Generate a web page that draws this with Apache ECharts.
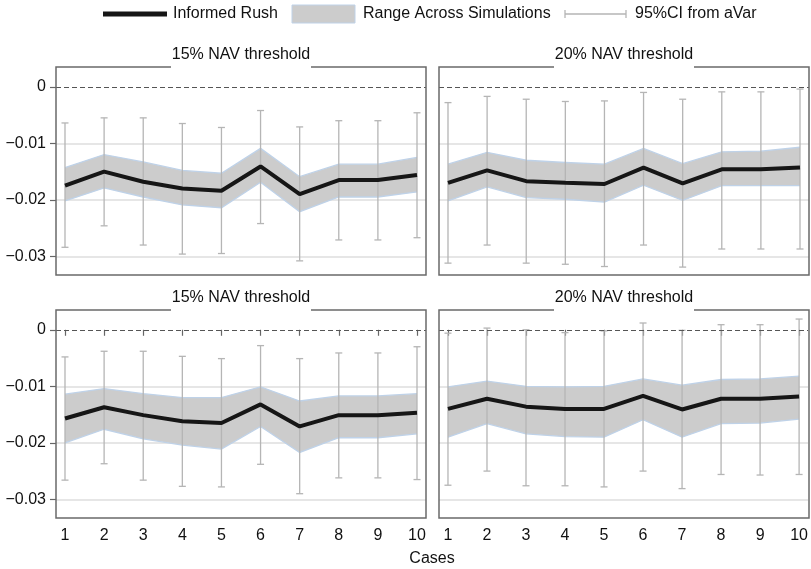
<!DOCTYPE html>
<html>
<head>
<meta charset="utf-8">
<script src="https://cdn.jsdelivr.net/npm/echarts@6/dist/echarts.min.js"></script>
<style>
  html, body { margin: 0; padding: 0; background: #fff; }
  #chart { width: 811px; height: 569px; }
</style>
</head>
<body>
<div id="chart"></div>
<script>
// 数据
const cases = [1, 2, 3, 4, 5, 6, 7, 8, 9, 10]
const yTicks = [0, -0.01, -0.02, -0.03]
const panelTitles = ['15% NAV threshold', '20% NAV threshold', '15% NAV threshold', '20% NAV threshold']

// top-left
const rushA = [-0.0175, -0.0150, -0.0168, -0.0180, -0.0184, -0.0141, -0.0190, -0.0165, -0.0165, -0.0156]
const rangeLowA = [-0.0202, -0.0179, -0.0195, -0.0209, -0.0214, -0.0169, -0.0221, -0.0195, -0.0195, -0.0186]
const rangeHighA = [-0.0143, -0.0120, -0.0133, -0.0148, -0.0153, -0.0109, -0.0159, -0.0137, -0.0137, -0.0125]
const ciLowA = [-0.0284, -0.0246, -0.0280, -0.0296, -0.0295, -0.0242, -0.0308, -0.0271, -0.0271, -0.0267]
const ciHighA = [-0.0064, -0.0055, -0.0055, -0.0065, -0.0072, -0.0042, -0.0071, -0.0060, -0.0060, -0.0046]

// top-right
const rushB = [-0.0170, -0.0148, -0.0167, -0.0170, -0.0172, -0.0143, -0.0171, -0.0146, -0.0146, -0.0143]
const rangeLowB = [-0.0202, -0.0177, -0.0196, -0.0199, -0.0204, -0.0174, -0.0201, -0.0175, -0.0175, -0.0175]
const rangeHighB = [-0.0137, -0.0116, -0.0130, -0.0134, -0.0137, -0.0109, -0.0136, -0.0115, -0.0114, -0.0107]
const ciLowB = [-0.0312, -0.0280, -0.0312, -0.0314, -0.0318, -0.0280, -0.0319, -0.0287, -0.0287, -0.0287]
const ciHighB = [-0.0028, -0.0017, -0.0022, -0.0026, -0.0025, -0.0010, -0.0022, -0.0009, -0.0009, -0.0004]

// bottom-left
const rushC = [-0.0157, -0.0137, -0.0151, -0.0162, -0.0165, -0.0132, -0.0171, -0.0151, -0.0151, -0.0147]
const rangeLowC = [-0.0200, -0.0176, -0.0193, -0.0204, -0.0211, -0.0171, -0.0217, -0.0191, -0.0191, -0.0184]
const rangeHighC = [-0.0114, -0.0104, -0.0113, -0.0120, -0.0120, -0.0101, -0.0126, -0.0117, -0.0117, -0.0113]
const ciLowC = [-0.0266, -0.0237, -0.0266, -0.0277, -0.0278, -0.0238, -0.0290, -0.0262, -0.0262, -0.0265]
const ciHighC = [-0.0048, -0.0038, -0.0038, -0.0047, -0.0051, -0.0028, -0.0051, -0.0041, -0.0041, -0.0030]

// bottom-right
const rushD = [-0.0140, -0.0122, -0.0136, -0.0140, -0.0140, -0.0117, -0.0141, -0.0122, -0.0122, -0.0118]
const rangeLowD = [-0.0190, -0.0166, -0.0184, -0.0189, -0.0190, -0.0159, -0.0190, -0.0166, -0.0165, -0.0158]
const rangeHighD = [-0.0101, -0.0091, -0.0100, -0.0101, -0.0100, -0.0087, -0.0098, -0.0088, -0.0087, -0.0082]
const ciLowD = [-0.0275, -0.0250, -0.0276, -0.0276, -0.0278, -0.0250, -0.0281, -0.0256, -0.0257, -0.0256]
const ciHighD = [-0.0006, 0.0003, 0.0000, -0.0005, -0.0002, 0.0012, -0.0001, 0.0009, 0.0009, 0.0019]

const panels = [
  { rush: rushA, low: rangeLowA, high: rangeHighA, ciLow: ciLowA, ciHigh: ciHighA },
  { rush: rushB, low: rangeLowB, high: rangeHighB, ciLow: ciLowB, ciHigh: ciHighB },
  { rush: rushC, low: rangeLowC, high: rangeHighC, ciLow: ciLowC, ciHigh: ciHighC },
  { rush: rushD, low: rangeLowD, high: rangeHighD, ciLow: ciLowD, ciHigh: ciHighD },
]

// 布局
const FONT = '"Liberation Sans", Arial, Helvetica, sans-serif'
const FS = 16
const boxes = [
  { left: 56, top: 67, width: 370, height: 208 },
  { left: 439, top: 67, width: 370, height: 208 },
  { left: 56, top: 310, width: 370, height: 208 },
  { left: 439, top: 310, width: 370, height: 208 },
]
const GAP_HALF = 70
const BAND_FILL = '#cccccc'
const BAND_EDGE = '#bfd2e8'
const CI_COLOR = '#b5b5b5'
const fmtY = (v) => (Math.abs(v) < 1e-9 ? '0' : '\u2212' + Math.abs(v).toFixed(2))

const grids = boxes.map((b) => ({ left: b.left, top: b.top, width: b.width, height: b.height, containLabel: false }))

const xAxes = boxes.map((b, i) => {
  const bottom = i >= 2
  return {
    gridIndex: i,
    type: 'value',
    min: 0.77,
    max: 10.23,
    splitLine: { show: false },
    axisLine: { show: false },
    axisTick: { show: bottom, length: 6, customValues: cases, lineStyle: { color: '#666', width: 1.2 } },
    axisLabel: { show: bottom, customValues: cases, margin: 10, fontSize: FS, color: '#111', fontFamily: FONT },
  }
})

const yAxes = boxes.map((b, i) => {
  const left = i % 2 === 0
  return {
    gridIndex: i,
    type: 'value',
    min: -0.0333,
    max: 0.0035,
    splitLine: { show: false },
    axisLine: { show: false },
    axisTick: { show: left, length: 6, customValues: yTicks, lineStyle: { color: '#666', width: 1.2 } },
    axisLabel: { show: left, customValues: yTicks, margin: 10, fontSize: FS, color: '#111', fontFamily: FONT, formatter: fmtY },
  }
})

// 误差线
const renderCI = (params, api) => {
  const x = api.value(0)
  const lo = api.coord([x, api.value(1)])
  const hi = api.coord([x, api.value(2)])
  const w = 3.5
  const style = { stroke: CI_COLOR, lineWidth: 1.3 }
  return {
    type: 'group',
    children: [
      { type: 'line', shape: { x1: lo[0], y1: lo[1], x2: hi[0], y2: hi[1] }, style },
      { type: 'line', shape: { x1: hi[0] - w, y1: hi[1], x2: hi[0] + w, y2: hi[1] }, style },
      { type: 'line', shape: { x1: lo[0] - w, y1: lo[1], x2: lo[0] + w, y2: lo[1] }, style },
    ],
  }
}

// 区间带：在第一个数据项上画整条多边形
const makeBandRender = (p) => (params, api) => {
  if (params.dataIndex !== 0) return null
  const upper = cases.map((c, k) => api.coord([c, p.high[k]]))
  const lower = cases.map((c, k) => api.coord([c, p.low[k]]))
  return {
    type: 'group',
    children: [
      { type: 'polygon', shape: { points: upper.concat(lower.slice().reverse()) }, style: { fill: BAND_FILL, stroke: null } },
      { type: 'polyline', shape: { points: upper }, style: { stroke: BAND_EDGE, lineWidth: 1.3, fill: null } },
      { type: 'polyline', shape: { points: lower }, style: { stroke: BAND_EDGE, lineWidth: 1.3, fill: null } },
    ],
  }
}

const series = []
panels.forEach((p, i) => {
  series.push({
    name: 'Range Across Simulations ' + i,
    type: 'custom',
    xAxisIndex: i,
    yAxisIndex: i,
    z: 2,
    silent: true,
    renderItem: makeBandRender(p),
    encode: { x: 0, y: [1, 2] },
    data: cases.map((c, k) => [c, p.low[k], p.high[k]]),
    markLine: {
      silent: true,
      z: 1,
      symbol: ['none', 'none'],
      label: { show: false },
      lineStyle: { color: '#dedede', width: 1.5, type: 'solid' },
      data: yTicks.filter((v) => v !== 0).map((v) => ({ yAxis: v })),
    },
  })
  series.push({
    name: '95%CI from aVar ' + i,
    type: 'custom',
    xAxisIndex: i,
    yAxisIndex: i,
    z: 3,
    silent: true,
    renderItem: renderCI,
    encode: { x: 0, y: [1, 2] },
    data: cases.map((c, k) => [c, p.ciLow[k], p.ciHigh[k]]),
  })
  series.push({
    name: 'Informed Rush ' + i,
    type: 'line',
    xAxisIndex: i,
    yAxisIndex: i,
    symbol: 'none',
    silent: true,
    z: 4,
    lineStyle: { color: '#161616', width: 4 },
    data: cases.map((c, k) => [c, p.rush[k]]),
    markLine: {
      silent: true,
      z: 5,
      symbol: ['none', 'none'],
      label: { show: false },
      lineStyle: { color: '#555', width: 1.2, type: [5, 3] },
      data: [{ yAxis: 0 }],
    },
  })
})

// 边框和标题
const graphics = []
boxes.forEach((b, i) => {
  const cx = b.left + b.width / 2
  const r = b.left + b.width
  const btm = b.top + b.height
  graphics.push({
    type: 'polyline',
    silent: true,
    z: 10,
    shape: {
      points: [[cx - GAP_HALF, b.top], [b.left, b.top], [b.left, btm], [r, btm], [r, b.top], [cx + GAP_HALF, b.top]],
    },
    style: { stroke: '#6a6a6a', lineWidth: 1.5, fill: null },
  })
  graphics.push({
    type: 'text',
    silent: true,
    x: cx,
    y: b.top - 12,
    style: { text: panelTitles[i], font: FS + 'px ' + FONT, fill: '#111', align: 'center', verticalAlign: 'middle' },
  })
})

// 图例
const LY = 14
const legendFont = FS + 'px ' + FONT
graphics.push(
  { type: 'rect', silent: true, shape: { x: 103, y: LY - 2.5, width: 64, height: 5 }, style: { fill: '#161616' } },
  { type: 'text', silent: true, x: 173, y: LY, style: { text: 'Informed Rush', font: legendFont, fill: '#111', verticalAlign: 'middle' } },
  { type: 'rect', silent: true, shape: { x: 292, y: LY - 9, width: 63, height: 18 }, style: { fill: BAND_FILL, stroke: BAND_EDGE, lineWidth: 1 } },
  { type: 'text', silent: true, x: 363, y: LY, style: { text: 'Range Across Simulations', font: legendFont, fill: '#111', verticalAlign: 'middle' } },
  { type: 'line', silent: true, shape: { x1: 565, y1: LY, x2: 626, y2: LY }, style: { stroke: CI_COLOR, lineWidth: 1.3 } },
  { type: 'line', silent: true, shape: { x1: 565, y1: LY - 4, x2: 565, y2: LY + 4 }, style: { stroke: CI_COLOR, lineWidth: 1.3 } },
  { type: 'line', silent: true, shape: { x1: 626, y1: LY - 4, x2: 626, y2: LY + 4 }, style: { stroke: CI_COLOR, lineWidth: 1.3 } },
  { type: 'text', silent: true, x: 635, y: LY, style: { text: '95%CI from aVar', font: legendFont, fill: '#111', verticalAlign: 'middle' } },
  { type: 'text', silent: true, x: 432, y: 559, style: { text: 'Cases', font: legendFont, fill: '#111', align: 'center', verticalAlign: 'middle' } }
)

const chart = echarts.init(document.getElementById('chart'), null, { renderer: 'canvas' })
chart.setOption({
  animation: false,
  backgroundColor: '#fff',
  grid: grids,
  xAxis: xAxes,
  yAxis: yAxes,
  series: series,
  graphic: graphics,
})
</script>
</body>
</html>
